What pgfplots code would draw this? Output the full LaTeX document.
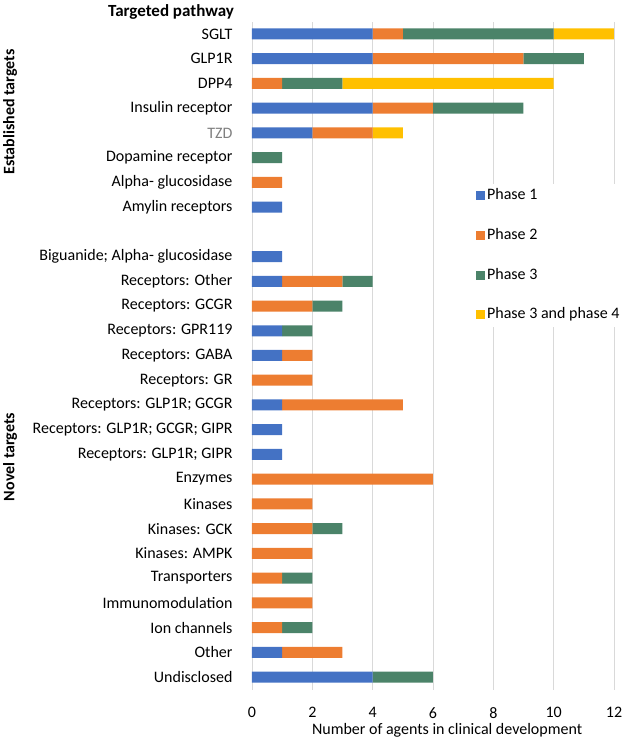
\documentclass[border=0pt]{standalone}
\usepackage{pgfplots}
\pgfplotsset{compat=1.18}
\usepackage{pgfplotstable}
\usepackage{fontspec}
\setmainfont{Carlito}

\definecolor{phaseone}{HTML}{4472C4}
\definecolor{phasetwo}{HTML}{ED7D31}
\definecolor{phasethree}{HTML}{4B8369}
\definecolor{phasefour}{HTML}{FFC000}
\definecolor{gridgray}{HTML}{D9D9D9}

% idx: row position from the top; row 8 is the gap between the two groups
\pgfplotstableread{
idx p1 p2 p3 p34
0  4 1 5 2
1  4 5 2 0
2  0 1 2 7
3  4 2 3 0
4  2 2 0 1
5  0 0 1 0
6  0 1 0 0
7  1 0 0 0
8  0 0 0 0
9  1 0 0 0
10 1 2 1 0
11 0 2 1 0
12 1 0 1 0
13 1 1 0 0
14 0 2 0 0
15 1 4 0 0
16 1 0 0 0
17 1 0 0 0
18 0 6 0 0
19 0 2 0 0
20 0 2 1 0
21 0 2 0 0
22 0 1 1 0
23 0 2 0 0
24 0 1 1 0
25 1 2 0 0
26 4 0 2 0
}\agents

\begin{document}
\fontsize{16pt}{19pt}\selectfont
\begin{tikzpicture}
\useasboundingbox (-252pt,-55pt) rectangle (373pt,690pt);
\begin{axis}[
    at={(0pt,0pt)}, anchor=south west,
    scale only axis, width=362pt, height=668pt,
    xbar stacked, bar width=11pt,
    xmin=0, xmax=12,
    ymin=-0.485, ymax=26.526, y dir=reverse,
    axis line style={draw=none},
    major tick length=0pt,
    xmajorgrids, grid style={gridgray, line width=0.8pt},
    xtick={0,2,...,12},
    ytick={0,...,7,9,10,...,26},
    yticklabels={SGLT, GLP1R, DPP4, Insulin receptor, {\color{gray}TZD},
        Dopamine receptor, Alpha- glucosidase, Amylin receptors,
        Biguanide; Alpha- glucosidase, Receptors: Other, Receptors: GCGR,
        Receptors: GPR119, Receptors: GABA, Receptors: GR,
        Receptors: GLP1R; GCGR, Receptors: GLP1R; GCGR; GIPR,
        Receptors: GLP1R; GIPR, Enzymes, Kinases, Kinases: GCK,
        Kinases: AMPK, Transporters, Immunomodulation, Ion channels,
        Other, Undisclosed},
    ticklabel style={font=\fontsize{16pt}{19pt}\selectfont},
    xticklabel style={/pgf/number format/assume math mode=true, yshift=-12pt},
    yticklabel style={xshift=-14pt},
    xlabel={Number of agents in clinical development},
    xlabel style={font=\fontsize{16pt}{19pt}\selectfont, at={(rel axis cs:0.539,0)}, anchor=center, yshift=-40pt},
    legend cell align=left,
    legend image code/.code={\fill[#1] (0pt,-4.5pt) rectangle (9pt,4.5pt);},
    legend style={at={(axis description cs:0.591,0.758)}, anchor=north west,
        fill=white, draw=none, inner xsep=10pt, inner ysep=5pt, row sep=25.7pt,
        font=\fontsize{16pt}{19pt}\selectfont,
        nodes={inner xsep=2pt, inner ysep=0pt, text height=11pt, text depth=3pt}},
]
\addplot[fill=phaseone, draw=none] table[x=p1, y=idx] {\agents};
\addplot[fill=phasetwo, draw=none] table[x=p2, y=idx] {\agents};
\addplot[fill=phasethree, draw=none] table[x=p3, y=idx] {\agents};
\addplot[fill=phasefour, draw=none] table[x=p34, y=idx] {\agents};
\legend{Phase 1, Phase 2, Phase 3, Phase 3 and phase 4}
\end{axis}
\node[font=\bfseries\fontsize{17pt}{20pt}\selectfont] at (-81pt,678pt) {Targeted pathway};
\node[font=\bfseries\fontsize{16pt}{19pt}\selectfont, rotate=90] at (-242pt,578pt) {Established targets};
\node[font=\bfseries\fontsize{16pt}{19pt}\selectfont, rotate=90] at (-242pt,233pt) {Novel targets};
\end{tikzpicture}
\end{document}
